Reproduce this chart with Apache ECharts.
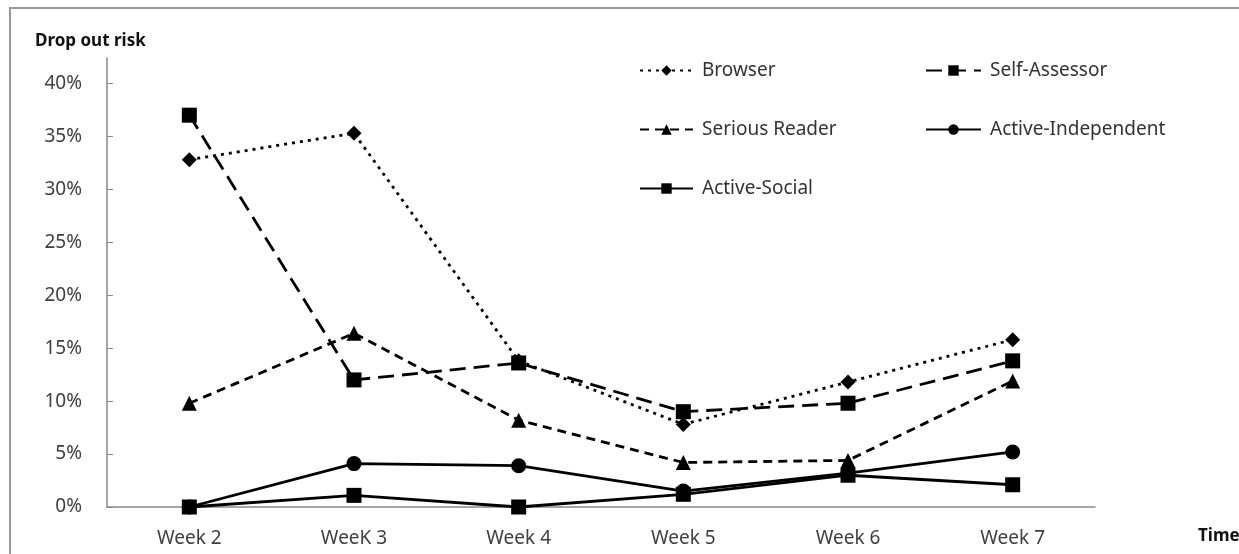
<!DOCTYPE html>
<html>
<head>
<meta charset="utf-8">
<script src="https://cdn.jsdelivr.net/npm/echarts@6/dist/echarts.min.js"></script>
<style>html,body{margin:0;padding:0;background:#fff}#c{width:1239px;height:554px}</style>
</head>
<body>
<div id="c"></div>
<script>
const categories = ['Week 2', 'WeeK 3', 'Week 4', 'Week 5', 'Week 6', 'Week 7'];
const browser = [32.8, 35.3, 13.8, 7.8, 11.8, 15.8];
const selfAssessor = [37.0, 12.0, 13.6, 9.0, 9.8, 13.8];
const seriousReader = [9.8, 16.4, 8.2, 4.2, 4.4, 11.9];
const activeIndependent = [0, 4.1, 3.9, 1.5, 3.2, 5.2];
const activeSocial = [0, 1.1, 0, 1.2, 3.0, 2.1];
const yTicks = [0, 5, 10, 15, 20, 25, 30, 35, 40];

const font = 'Noto Sans';
function mk(name, data, symbol, size, type) {
  return {
    name, type: 'line', data, symbol, symbolSize: size,
    lineStyle: { color: '#000', width: 2.8, type },
    itemStyle: { color: '#000' },
    animation: false
  };
}
const legendText = { fontFamily: font, fontSize: 19, color: '#333', padding: [0, 0, 0, 4] };
const chart = echarts.init(document.getElementById('c'));
chart.setOption({
  backgroundColor: '#fff',
  animation: false,
  grid: { left: 107, right: 144, top: 58, bottom: 47 },
  legend: [
    { orient: 'vertical', left: 634, top: 56, itemGap: 40, itemWidth: 53, itemHeight: 13,
      data: ['Browser', 'Serious Reader', 'Active-Social'], textStyle: legendText },
    { orient: 'vertical', left: 920, top: 56, itemGap: 40, itemWidth: 55, itemHeight: 13,
      data: ['Self-Assessor', 'Active-Independent'], textStyle: legendText }
  ],
  xAxis: {
    type: 'category', data: categories, boundaryGap: true,
    axisLine: { lineStyle: { color: '#888', width: 1.5 } },
    axisTick: { inside: true, length: 6, lineStyle: { color: '#888' } },
    axisLabel: { fontFamily: font, fontSize: 19, color: '#404040', margin: 22 }
  },
  yAxis: {
    type: 'value', min: 0, max: 42.4, interval: 5,
    splitLine: { show: false },
    axisLine: { show: true, lineStyle: { color: '#888', width: 1.5 } },
    axisTick: { show: true, inside: true, length: 6, lineStyle: { color: '#888' }, customValues: yTicks },
    axisLabel: { fontFamily: font, fontSize: 19, color: '#404040', margin: 25, customValues: yTicks,
      formatter: v => v + '%' }
  },
  graphic: [
    { type: 'rect', shape: { x: 10, y: 8, width: 1260, height: 600 }, style: { fill: 'none', stroke: '#999', lineWidth: 2 }, silent: true },
    { type: 'text', left: 35, top: 33, style: { text: 'Drop out risk', fontFamily: font, fontSize: 17, fontWeight: 'bold', fill: '#111' } },
    { type: 'text', left: 1198, top: 528, style: { text: 'Time', fontFamily: font, fontSize: 17, fontWeight: 'bold', fill: '#111' } }
  ],
  series: [
    mk('Browser', browser, 'diamond', 15, [3, 5]),
    mk('Self-Assessor', selfAssessor, 'rect', 15, [16, 8]),
    mk('Serious Reader', seriousReader, 'triangle', 15, [9, 6]),
    mk('Active-Independent', activeIndependent, 'circle', 15, 'solid'),
    mk('Active-Social', activeSocial, 'rect', 15, 'solid')
  ]
});
</script>
</body>
</html>
